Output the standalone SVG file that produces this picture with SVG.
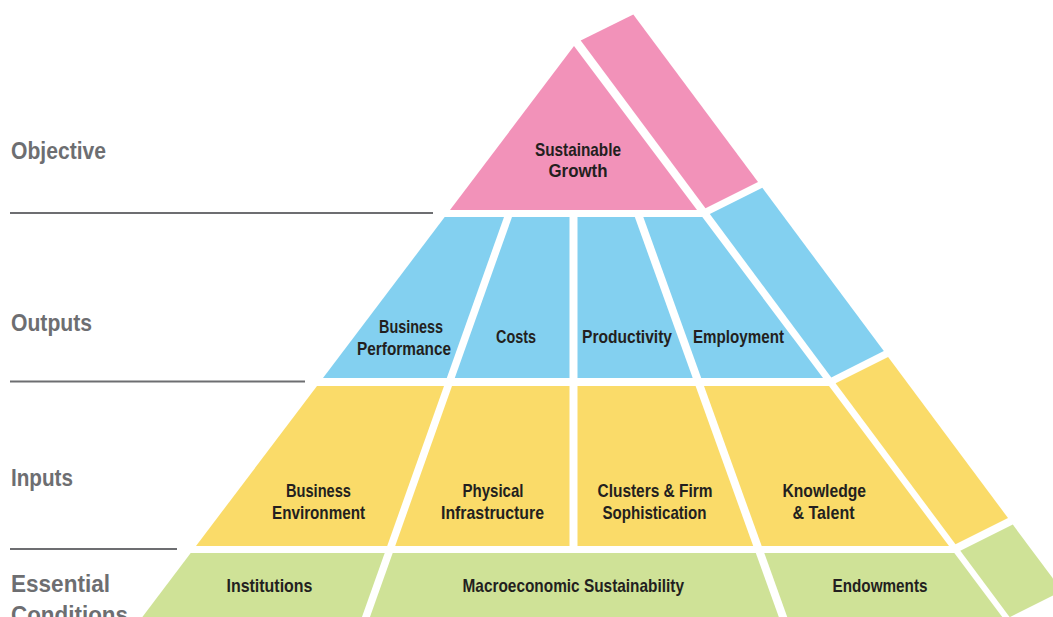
<svg xmlns="http://www.w3.org/2000/svg" width="1053" height="617" viewBox="0 0 1053 617">
  <style>
    .pink{fill:#f292b9}
    .blue{fill:#83d0f0}
    .yellow{fill:#fadb69}
    .green{fill:#cfe297}
    .lbl{font-family:"Liberation Sans",Arial,sans-serif;font-weight:bold;font-size:19px;fill:#231f20}
    .side{font-family:"Liberation Sans",Arial,sans-serif;font-weight:bold;font-size:24px;fill:#6d6e71}
    .rule{stroke:#6d6e71;stroke-width:2;fill:none}
  </style>
  <rect width="1053" height="617" fill="#ffffff"/>

  <g id="level-labels">
    <text class="side" x="11" y="159" textLength="95" lengthAdjust="spacingAndGlyphs">Objective</text>
    <text class="side" x="11" y="330.5" textLength="81" lengthAdjust="spacingAndGlyphs">Outputs</text>
    <text class="side" x="11" y="486" textLength="62" lengthAdjust="spacingAndGlyphs">Inputs</text>
    <text class="side" x="11" y="592" textLength="99" lengthAdjust="spacingAndGlyphs">Essential</text>
    <text class="side" x="11" y="623" textLength="117" lengthAdjust="spacingAndGlyphs">Conditions</text>
  </g>
  <g id="rules">
    <line class="rule" x1="10" y1="213" x2="433" y2="213"/>
    <line class="rule" x1="10" y1="381.5" x2="305" y2="381.5"/>
    <line class="rule" x1="10" y1="549" x2="177" y2="549"/>
  </g>

  <!-- Objective -->
  <g id="sustainable-growth">
    <polygon class="pink" points="574,46 450,210 697,210"/>
    <text class="lbl" x="535" y="156" textLength="86" lengthAdjust="spacingAndGlyphs">Sustainable</text>
    <text class="lbl" x="548.5" y="177" textLength="59" lengthAdjust="spacingAndGlyphs">Growth</text>
  </g>
  <g id="side-pink">
    <polygon class="pink" points="580.7,40.6 633.3,14.4 758,182 705.5,208.3"/>
  </g>

  <!-- Outputs -->
  <g id="business-performance">
    <polygon class="blue" points="444.7,217 504,217 446.8,378 323,378"/>
    <text class="lbl" x="379" y="333" textLength="64" lengthAdjust="spacingAndGlyphs">Business</text>
    <text class="lbl" x="357" y="355" textLength="94" lengthAdjust="spacingAndGlyphs">Performance</text>
  </g>
  <g id="costs">
    <polygon class="blue" points="512,217 569.5,217 569.5,378 454.8,378"/>
    <text class="lbl" x="496" y="343" textLength="40" lengthAdjust="spacingAndGlyphs">Costs</text>
  </g>
  <g id="productivity">
    <polygon class="blue" points="577.5,217 634.8,217 692.7,378 577.5,378"/>
    <text class="lbl" x="582" y="343" textLength="90" lengthAdjust="spacingAndGlyphs">Productivity</text>
  </g>
  <g id="employment">
    <polygon class="blue" points="643.3,217 702.3,217 823,378 701.2,378"/>
    <text class="lbl" x="693" y="343" textLength="91" lengthAdjust="spacingAndGlyphs">Employment</text>
  </g>
  <g id="side-blue">
    <polygon class="blue" points="709.8,214.1 762.3,187.8 883.8,351.1 831.3,377.4"/>
  </g>

  <!-- Inputs -->
  <g id="business-environment">
    <polygon class="yellow" points="317,386 444,386 387.2,546 196,546"/>
    <text class="lbl" x="286" y="497" textLength="65" lengthAdjust="spacingAndGlyphs">Business</text>
    <text class="lbl" x="272" y="519" textLength="93" lengthAdjust="spacingAndGlyphs">Environment</text>
  </g>
  <g id="physical-infrastructure">
    <polygon class="yellow" points="452,386 569.5,386 569.5,546 395.2,546"/>
    <text class="lbl" x="462.5" y="497" textLength="61" lengthAdjust="spacingAndGlyphs">Physical</text>
    <text class="lbl" x="441" y="518.5" textLength="103" lengthAdjust="spacingAndGlyphs">Infrastructure</text>
  </g>
  <g id="clusters-firm-sophistication">
    <polygon class="yellow" points="577.5,386 695.6,386 753.2,546 577.5,546"/>
    <text class="lbl" x="597.5" y="497" textLength="115" lengthAdjust="spacingAndGlyphs">Clusters &amp; Firm</text>
    <text class="lbl" x="602.5" y="518.5" textLength="104" lengthAdjust="spacingAndGlyphs">Sophistication</text>
  </g>
  <g id="knowledge-talent">
    <polygon class="yellow" points="704,386 829,386 949,546 761.7,546"/>
    <text class="lbl" x="782.5" y="497" textLength="83.5" lengthAdjust="spacingAndGlyphs">Knowledge</text>
    <text class="lbl" x="792.5" y="518.5" textLength="62" lengthAdjust="spacingAndGlyphs">&amp; Talent</text>
  </g>
  <g id="side-yellow">
    <polygon class="yellow" points="835.6,383.2 888.1,357 1008,518 955.5,544.3"/>
  </g>

  <!-- Essential Conditions -->
  <g id="institutions">
    <polygon class="green" points="190.7,553 384.7,553 360.9,620 140.1,620"/>
    <text class="lbl" x="226.5" y="592" textLength="86" lengthAdjust="spacingAndGlyphs">Institutions</text>
  </g>
  <g id="macroeconomic-sustainability">
    <polygon class="green" points="392.7,553 755.8,553 779.9,620 368.9,620"/>
    <text class="lbl" x="462.5" y="592" textLength="221.5" lengthAdjust="spacingAndGlyphs">Macroeconomic Sustainability</text>
  </g>
  <g id="endowments">
    <polygon class="green" points="764.3,553 954.3,553 1004.5,620 788.3,620"/>
    <text class="lbl" x="832.5" y="592" textLength="95" lengthAdjust="spacingAndGlyphs">Endowments</text>
  </g>
  <g id="side-green">
    <polygon class="green" points="960.3,550.8 1012.8,524.6 1062.2,590.9 1009.7,617.2"/>
  </g>

  <g id="connectors"></g>
</svg>
